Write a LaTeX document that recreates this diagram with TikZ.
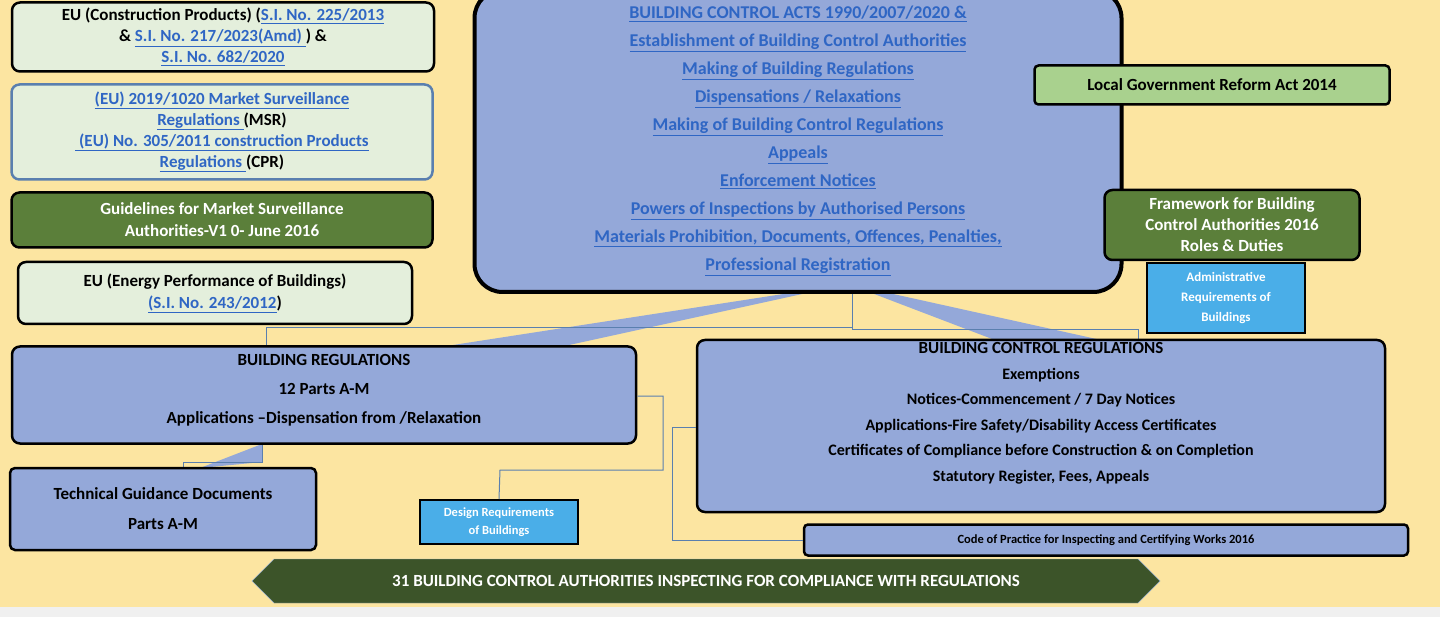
\documentclass[tikz,border=0pt]{standalone}
\usepackage{fontspec}
\setmainfont{Carlito}
\usetikzlibrary{shapes.arrows}
\definecolor{bgyellow}{HTML}{FCE5A1}
\definecolor{palegreen}{HTML}{E4EFDC}
\definecolor{darkgreen}{HTML}{5B7F3A}
\definecolor{lightgreen}{HTML}{A9D18E}
\definecolor{regblue}{HTML}{94A8D9}
\definecolor{skyblue}{HTML}{4AAEE8}
\definecolor{linkblue}{HTML}{2F66C4}
\definecolor{edgeblue}{HTML}{5A7FAF}
\definecolor{arrowgreen}{HTML}{3C5429}
\newcommand{\lnk}[1]{\textcolor{linkblue}{\underline{#1}}}
\tikzset{
  box/.style={draw=black, line width=2.5pt, rounded corners=8pt, align=center, font=\bfseries\fontsize{17}{25}\selectfont},
  tag/.style={draw=black, line width=2pt, fill=skyblue, text=white, align=center},
  link/.style={draw=edgeblue, line width=1pt},
  wedge/.style={fill=regblue}
}
\begin{document}
\begin{tikzpicture}[x=1pt,y=-1pt]
\useasboundingbox (0,0) rectangle (1440,617);
\fill[bgyellow] (0,0) rectangle (1440,607);
\fill[black!6] (0,607) rectangle (1440,617);

% links behind the boxes
\fill[wedge] (848,284) -- (440,347) -- (560,347) -- cycle;
\fill[wedge] (848,284) -- (1000,342) -- (1110,342) -- cycle;
\fill[wedge] (262,444) -- (200,468) -- (262,462) -- cycle;
\draw[link] (266,346) -- (266,328) -- (852,328);
\draw[link] (852,284) -- (852,330) -- (1138,330) -- (1138,340);
\draw[link] (262,444) -- (262,462) -- (183,462) -- (183,468);

% left column
\node[box, fill=palegreen, minimum width=422, minimum height=69] (cpr) at (223,37)
  {EU (Construction Products) (\lnk{S.I. No. 225/2013}\\[-4pt]
   \& \lnk{S.I. No. 217/2023(Amd) }) \&\\[-4pt] \lnk{S.I. No. 682/2020}};
\node[box, draw=edgeblue, fill=palegreen, minimum width=421, minimum height=95] (msr) at (222,132)
  {\lnk{(EU) 2019/1020 Market Surveillance}\\[-4pt] \lnk{Regulations }(MSR)\\[-4pt]
   \lnk{ (EU) No. 305/2011 construction Products}\\[-4pt] \lnk{Regulations }(CPR)};
\node[box, fill=darkgreen, text=white, minimum width=421, minimum height=55] (guide) at (222,220)
  {Guidelines for Market Surveillance\\[-3pt] Authorities-V1 0- June 2016};
\node[box, fill=palegreen, minimum width=394, minimum height=62] (epb) at (215,293)
  {EU (Energy Performance of Buildings)\\[-3pt] \lnk{(S.I. No. 243/2012}) };

% acts
\node[box, fill=regblue, line width=4pt, rounded corners=28pt, minimum width=647, minimum height=302,
  font=\bfseries\fontsize{18}{28}\selectfont] (acts) at (798,141)
  {\lnk{BUILDING CONTROL ACTS 1990/2007/2020 \&}\\ \lnk{Establishment of Building Control Authorities}\\
   \lnk{Making of Building Regulations}\\ \lnk{Dispensations / Relaxations}\\
   \lnk{Making of Building Control Regulations}\\ \lnk{Appeals}\\ \lnk{Enforcement Notices}\\
   \lnk{Powers of Inspections by Authorised Persons}\\
   \lnk{Materials Prohibition, Documents, Offences, Penalties,}\\ \lnk{Professional Registration}};

% right column
\node[box, fill=lightgreen, rounded corners=4pt, minimum width=355, minimum height=39] (lgra) at (1212,85)
  {Local Government Reform Act 2014};
\node[box, fill=darkgreen, text=white, minimum width=255, minimum height=70] (frame) at (1232,225)
  {Framework for Building\\[-4pt] Control Authorities 2016\\[-4pt] Roles \& Duties};
\node[tag, minimum width=158, minimum height=70, font=\bfseries\fontsize{13}{20}\selectfont] (admin) at (1226,298)
  {Administrative\\ Requirements of\\ Buildings};

% regulations
\node[box, fill=regblue, minimum width=624, minimum height=97] (breg) at (324,395) {};
\node[font=\bfseries\fontsize{17}{29}\selectfont, align=center, anchor=north] at (324,351)
  {BUILDING REGULATIONS\\ 12 Parts A-M\\ Applications --Dispensation from /Relaxation};
\node[box, fill=regblue, minimum width=688, minimum height=172] (bcr) at (1041,426) {};
\node[font=\bfseries\fontsize{16}{25.5}\selectfont, align=center, anchor=north] at (1041,339)
  {{\fontsize{17}{20}\selectfont BUILDING CONTROL REGULATIONS}\\ Exemptions\\ Notices-Commencement / 7 Day Notices\\
   Applications-Fire Safety/Disability Access Certificates\\
   Certificates of Compliance before Construction \& on Completion\\ Statutory Register, Fees, Appeals};
\node[box, fill=regblue, minimum width=306, minimum height=82, rounded corners=5pt,
  font=\bfseries\fontsize{17}{30}\selectfont] (tgd) at (163,509) {Technical Guidance Documents\\ Parts A-M};
\node[tag, minimum width=158, minimum height=44, font=\bfseries\fontsize{12.5}{18}\selectfont] (design) at (499,522)
  {Design Requirements\\ of Buildings};
\node[box, fill=regblue, rounded corners=4pt, minimum width=604, minimum height=31,
  font=\bfseries\fontsize{12.5}{15}\selectfont] (code) at (1106,540) {Code of Practice for Inspecting and Certifying Works 2016};

\draw[link] (breg.east |- 0,396) -- (663,396) -- (663,470) -- (500,470) -- (design.north);
\draw[link] (bcr.west |- 0,427) -- (672,427) -- (672,540) -- (code.west);

% bottom arrow
\node[double arrow, fill=arrowgreen, draw=edgeblue!60, minimum width=44, double arrow head extend=0pt,
  minimum height=908, inner sep=0pt, text=white, font=\bfseries\fontsize{17}{20}\selectfont] (bca) at (706,581)
  {31 BUILDING CONTROL AUTHORITIES INSPECTING FOR COMPLIANCE WITH REGULATIONS};
\end{tikzpicture}
\end{document}
